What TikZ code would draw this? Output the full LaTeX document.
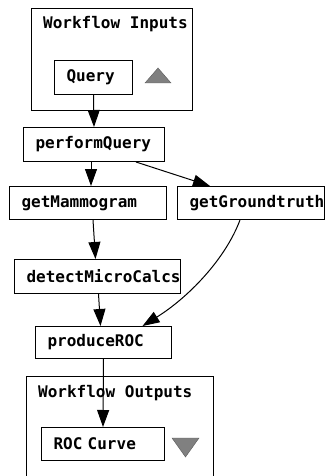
\documentclass[tikz,border=0pt]{standalone}
\usepackage{fontspec}
\newfontfamily\wffont[HyphenChar=None]{DejaVu Sans Mono}
\usetikzlibrary{arrows.meta}
\definecolor{tri}{RGB}{128,128,128}
\definecolor{trid}{RGB}{90,90,90}
\tikzset{
  wf/.style={font=\wffont\bfseries\fontsize{16}{19}\selectfont},
  proc/.style={wf, draw, line width=1pt, anchor=north west, inner xsep=12pt, inner ysep=0pt,
    align=left, text width=#1, minimum height=34pt},
  group/.style={draw, line width=1pt, anchor=north west, inner sep=0pt},
  flow/.style={-{Triangle[width=12pt,length=17pt]}, line width=1pt}
}

\begin{document}
\begin{tikzpicture}[x=1pt,y=-1pt]
\useasboundingbox (0,0) rectangle (325,476);
\clip (0,0) rectangle (325,476);
% inputs
\node[group, minimum width=161pt, minimum height=102pt] (inputs) at (31,8) {};
\node[wf, anchor=base west, inner sep=0pt] (inputsTitle) at (43,29) {Workflow Inputs};
\node[proc=54pt] (query) at (54,60) {Query};
\filldraw[fill=tri, draw=trid] (145,83)--(171,83)--(158,68)--cycle;
% processors
\node[proc=117pt] (performQuery) at (23,127) {performQuery};
\node[proc=133pt, minimum height=33pt] (getMammogram) at (9,186) {getMammogram};
\node[proc=123pt, minimum height=33pt] (getGroundtruth) at (177,186) {getGroundtruth};
\node[proc=142pt] (detectMicroCalcs) at (14,259) {detectMicroCalcs};
\node[proc=112pt, minimum height=32pt] (produceROC) at (35,326) {produceROC};
% outputs
\node[group, minimum width=187pt, minimum height=130pt] (outputs) at (26,376) {};
\node[wf, anchor=base west, inner sep=0pt] (outputsTitle) at (38,397) {Workflow Outputs};
\node[proc=99pt, minimum height=33pt] (rocCurve) at (41,427) {ROC Curve};
\filldraw[fill=tri, draw=trid] (172,438)--(199,438)--(185.5,457)--cycle;
% links
\draw[flow] (query.south) -- (performQuery.north);
\draw[flow] ([xshift=-3pt]performQuery.south) -- ([xshift=3pt]getMammogram.north);
\draw[flow] ([xshift=-29pt]performQuery.south east) -- ([xshift=33pt]getGroundtruth.north west);
\draw[flow] ([xshift=5pt]getMammogram.south) -- ([xshift=-2pt]detectMicroCalcs.north);
\draw[flow] ([xshift=1pt]detectMicroCalcs.south) -- ([xshift=-3pt]produceROC.north);
\draw[flow] ([xshift=63pt]getGroundtruth.south west) .. controls +(-15,40) and +(45,-28) .. ([xshift=39pt]produceROC.north);
\draw[flow] (produceROC.south) -- (rocCurve.north);
\end{tikzpicture}
\end{document}
